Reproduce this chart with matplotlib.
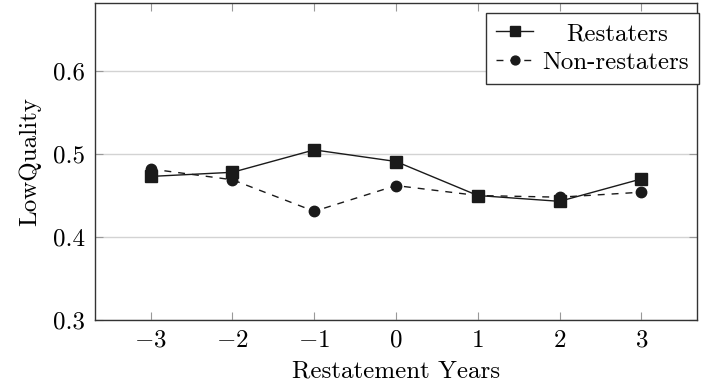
import matplotlib
matplotlib.use("Agg")
import matplotlib.pyplot as plt

# -------------------- data --------------------
years = [-3, -2, -1, 0, 1, 2, 3]
restaters = [0.473, 0.478, 0.505, 0.491, 0.450, 0.443, 0.470]
non_restaters = [0.482, 0.469, 0.431, 0.462, 0.450, 0.448, 0.454]
y_ticks = [0.3, 0.4, 0.5, 0.6]

# -------------------- style --------------------
plt.rcParams["font.family"] = "serif"
plt.rcParams["font.serif"] = ["cmr10"]
plt.rcParams["mathtext.fontset"] = "cm"
plt.rcParams["axes.formatter.use_mathtext"] = True
plt.rcParams["font.size"] = 18

fig = plt.figure(figsize=(7.08, 3.87), dpi=100)
ax = fig.add_axes([95 / 708, 67 / 387, 602 / 708, 317 / 387])

ax.plot(years, restaters, color="#1a1a1a", lw=1.0, marker="s", ms=8,
        label="Restaters")
ax.plot(years, non_restaters, color="#1a1a1a", lw=1.0, ls=(0, (5, 5)),
        marker="o", ms=7.5, label="Non-restaters")

ax.set_xlim(-3.68, 3.68)
ax.set_ylim(0.3, 0.682)
ax.set_xticks(years)
ax.set_yticks(y_ticks)
ax.set_yticklabels([f"{v:.1f}" for v in y_ticks])
ax.grid(axis="y", color="#d3d3d3", lw=1.0)
ax.set_axisbelow(True)
ax.tick_params(direction="in", length=6, color="#999999", top=True, right=True,
               pad=7)
for s in ax.spines.values():
    s.set_linewidth(1.0)
    s.set_color("#333333")

ax.set_xlabel("Restatement Years", labelpad=6)
ax.set_ylabel("LowQuality", labelpad=9)

leg = ax.legend(loc="upper right", bbox_to_anchor=(1.003, 0.97),
                fancybox=False, edgecolor="#333333", framealpha=1,
                borderaxespad=0, handlelength=1.5, handletextpad=0.35,
                borderpad=0.4, labelspacing=0.25, markerscale=0.85)
leg.get_frame().set_linewidth(1.0)
leg.get_texts()[0].set_position((24, 0))

fig.savefig("out.png", dpi=100)
